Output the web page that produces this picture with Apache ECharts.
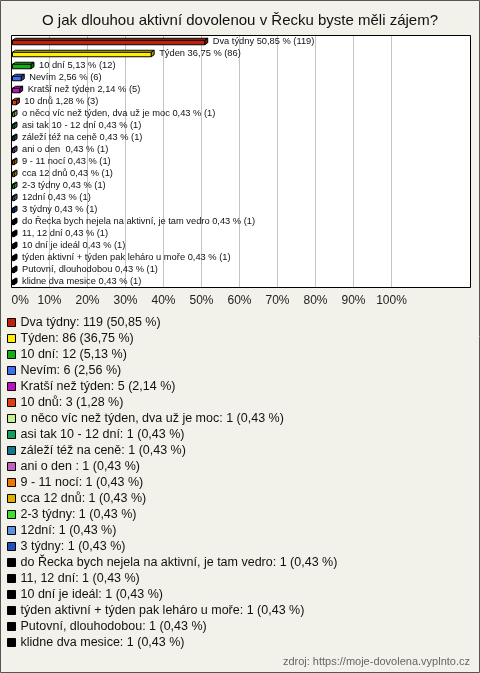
<!DOCTYPE html>
<html>
<head>
<meta charset="utf-8">
<script src="https://cdn.jsdelivr.net/npm/echarts@6/dist/echarts.min.js"></script>
<style>
html,body{margin:0;padding:0;background:#f3f2ea;}
#c{width:480px;height:673px;}
</style>
</head>
<body>
<div id="c"></div>
<script>
const categories = [
  "Dva týdny","Týden","10 dní","Nevím","Kratší než týden","10 dnů",
  "o něco víc než týden, dva už je moc","asi tak 10 - 12 dní","záleží též na ceně",
  "ani o den ","9 - 11 nocí","cca 12 dnů","2-3 týdny","12dní","3 týdny",
  "do Řecka bych nejela na aktivní, je tam vedro","11, 12 dní","10 dní je ideál",
  "týden aktivní + týden pak leháro u moře","Putovní, dlouhodobou","klidne dva mesice"
];
const counts = [119,86,12,6,5,3,1,1,1,1,1,1,1,1,1,1,1,1,1,1,1];
const percents = [50.85,36.75,5.13,2.56,2.14,1.28,0.43,0.43,0.43,0.43,0.43,0.43,0.43,0.43,0.43,0.43,0.43,0.43,0.43,0.43,0.43];
const tickValues = [0,10,20,30,40,50,60,70,80,90,100];

const colors = ["#c0200c","#ffee00","#10b010","#4070f0","#c010c0","#e04010",
  "#c8f090","#10a060","#10788c","#c060c0","#f07800","#e0b000","#40e030","#6090e0","#2050c0",
  "#000000","#000000","#000000","#000000","#000000","#000000"];

function fmt(p){ return p.toFixed(2).replace('.', ','); }

function shade(hex, f){
  const n = parseInt(hex.slice(1),16);
  let r=(n>>16)&255,g=(n>>8)&255,b=n&255;
  if(f>0){ r=r+(255-r)*f; g=g+(255-g)*f; b=b+(255-b)*f; }
  else { r=r*(1+f); g=g*(1+f); b=b*(1+f); }
  return 'rgb('+Math.round(r)+','+Math.round(g)+','+Math.round(b)+')';
}

function renderItem(params, api){
  const v = api.value(0);
  const ci = api.value(1);
  const s = api.coord([0, ci]);
  const e = api.coord([v, ci]);
  const h = 4.5, dx = 3, dy = 2;
  const x0 = s[0] + 1, x1 = Math.max(e[0], x0 + 1.5);
  const top = s[1] - h/2 + 1, bot = top + h;
  const col = colors[params.seriesIndex];
  const label = categories[params.seriesIndex] + ' ' + fmt(percents[params.seriesIndex]) + ' % (' + counts[params.seriesIndex] + ')';
  const st = {stroke:'#000', lineWidth:1};
  return {type:'group', children:[
    {type:'polygon', shape:{points:[[x0,top],[x0+dx,top-dy],[x1+dx,top-dy],[x1,top]]}, style:Object.assign({fill:shade(col,0.15)},st)},
    {type:'polygon', shape:{points:[[x1,top],[x1+dx,top-dy],[x1+dx,bot-dy],[x1,bot]]}, style:Object.assign({fill:shade(col,-0.35)},st)},
    {type:'rect', shape:{x:x0, y:top, width:x1-x0, height:h}, style:Object.assign({fill:col},st)},
    {type:'text', style:{text:label, x:x1+dx+5, y:s[1]-0.5, verticalAlign:'middle', align:'left',
      font:'9.3px Arial, "Liberation Sans", sans-serif', fill:'#111'}}
  ]};
}

const series = categories.map((name, i) => ({
  name: name,
  type: 'custom',
  renderItem: renderItem,
  clip: false,
  itemStyle: {color: colors[i]},
  color: colors[i],
  data: [[percents[i], i]],
  encode: {x: 0, y: 1}
}));

const chart = echarts.init(document.getElementById('c'), null, {renderer:'canvas'});
chart.setOption({
  animation: false,
  backgroundColor: '#f3f2ea',
  title: {
    text: 'O jak dlouhou aktivní dovolenou v Řecku byste měli zájem?',
    left: 'center', top: 8,
    textStyle: {fontFamily:'Arial, "Liberation Sans", sans-serif', fontSize:15, fontWeight:'normal', color:'#111'}
  },
  graphic: [
    {type:'rect', z:-20, shape:{x:0.5, y:0.5, width:479, height:672}, style:{fill:'#f3f2ea', stroke:'#555', lineWidth:1}},
    {type:'rect', z:-10, shape:{x:11.5, y:35.5, width:459, height:252}, style:{fill:'#ffffff', stroke:'none'}},
    {type:'rect', z:50, shape:{x:11.5, y:35.5, width:459, height:252}, style:{fill:'none', stroke:'#000', lineWidth:1}},
    {type:'text', right: 10, top: 656, style:{text:'zdroj: https://moje-dovolena.vyplnto.cz',
      font:'11px Arial, "Liberation Sans", sans-serif', fill:'#666'}}
  ],
  grid: {left: 11.5, top: 35.5, width: 380, height: 252, containLabel: false},
  xAxis: {
    type: 'value', min: tickValues[0], max: tickValues[tickValues.length-1], interval: 10,
    axisLine: {show:false}, axisTick: {show:false},
    splitLine: {show:true, lineStyle:{color:'#c4c4c4', width:1}},
    axisLabel: {formatter: v => v + '%', margin: 7, alignMinLabel: 'left', color:'#222',
      fontFamily:'Arial, "Liberation Sans", sans-serif', fontSize:12}
  },
  yAxis: {
    type: 'category', data: categories, inverse: true,
    axisLine:{show:false}, axisTick:{show:false}, axisLabel:{show:false}, splitLine:{show:false}
  },
  legend: {
    orient: 'vertical', left: 2, top: 311, itemGap: 3,
    itemWidth: 8, itemHeight: 8, icon: 'rect', selectedMode: false,
    itemStyle: {borderColor:'#000', borderWidth:1},
    data: categories,
    formatter: name => {
      const i = categories.indexOf(name);
      return name + ': ' + counts[i] + ' (' + fmt(percents[i]) + ' %)';
    },
    textStyle: {fontFamily:'Arial, "Liberation Sans", sans-serif', fontSize:12.5, lineHeight:13, color:'#111'}
  },
  series: series
});
</script>
</body>
</html>
